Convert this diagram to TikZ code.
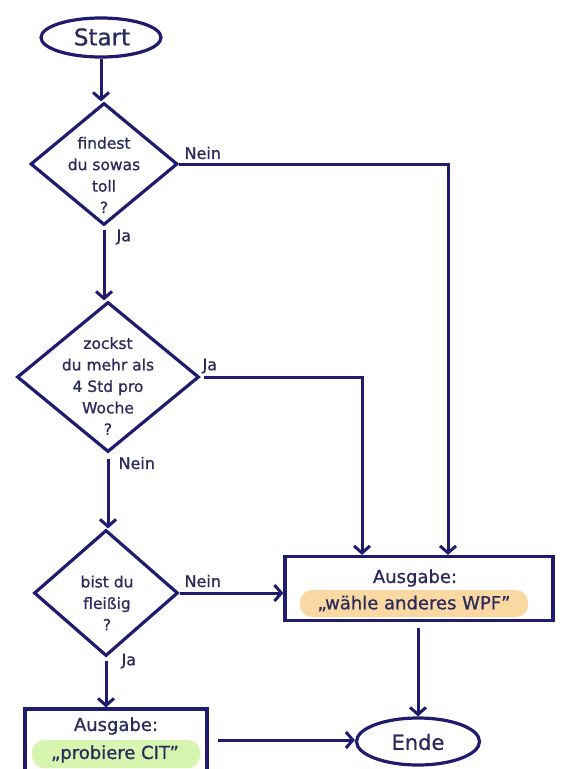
\documentclass[tikz,border=0pt]{standalone}
\usepackage{fontspec}
\setmainfont{DejaVu Sans}[BoldFont=DejaVu Sans, BoldFeatures={FakeBold=0.8}]
\usetikzlibrary{shapes.geometric,arrows.meta}
\definecolor{ink}{HTML}{1F1B6E}
\definecolor{txt}{HTML}{2B2A5C}
\definecolor{peach}{HTML}{FAD8A2}
\definecolor{lime}{HTML}{D6F5AE}
\begin{document}
\begin{tikzpicture}[x=1pt,y=-1pt,
  line width=3.2pt,
  every node/.style={text=txt, font=\bfseries},
  terminal/.style={draw=ink, ellipse, inner sep=0pt},
  decision/.style={draw=ink, diamond, inner sep=0pt, line join=miter},
  qtext/.style={align=center, font=\bfseries\fontsize{15.5}{21.5}\selectfont},
  outbox/.style={draw=ink, rectangle, inner sep=0pt},
  lbl/.style={font=\bfseries\fontsize{16}{18}\selectfont, inner sep=0pt},
  big/.style={font=\bfseries\fontsize{18}{20}\selectfont},
  flow/.style={draw=ink, line width=3pt, -{Straight Barb[length=7pt,width=16pt]}}
]
\useasboundingbox[fill=white] (0,0) rectangle (573,769);

% terminals
\node[terminal, minimum width=120pt, minimum height=39pt] (start) at (101,37.5) {};
\node[font=\bfseries\fontsize{23}{24}\selectfont] (starttxt) at (102,37) {Start};
\node[terminal, minimum width=123pt, minimum height=47pt] (ende) at (418,741.5) {};
\node[font=\bfseries\fontsize{21}{24}\selectfont] (endetxt) at (418,742) {Ende};

% decisions
\node[decision, minimum width=147pt, minimum height=122pt] (d1) at (104,164) {};
\node[qtext] (q1) at (104,175) {findest\\du sowas\\toll\\?};
\node[decision, minimum width=182pt, minimum height=150pt] (d2) at (108,377) {};
\node[qtext] (q2) at (108,386) {zockst\\du mehr als\\4 Std pro\\Woche\\?};
\node[decision, minimum width=144pt, minimum height=126pt] (d3) at (106,593) {};
\node[qtext] (q3) at (107,603) {bist du\\fleißig\\?};

% output boxes
\node[outbox, minimum width=268pt, minimum height=64pt] (wpf) at (419,588.5) {};
\node[big] (wpfhead) at (415,578) {Ausgabe:};
\fill[peach, rounded corners=12pt] (300,590) rectangle (528,617);
\node[big] (wpftxt) at (414,603.5) {„wähle anderes WPF\symbol{"22}};

\node[outbox, minimum width=182pt, minimum height=62pt] (cit) at (116,740) {};
\fill[lime, rounded corners=12pt] (32,740) rectangle (200,768);
\node[big] (cithead) at (116,726) {Ausgabe:};
\node[big] (cittxt) at (115,754) {„probiere CIT\symbol{"22}};

% branch labels
\node[lbl, anchor=west] (n1) at (183,153) {Nein};
\node[lbl, anchor=west] (j1) at (115,237) {Ja};
\node[lbl, anchor=west] (j2) at (201,366) {Ja};
\node[lbl, anchor=west] (n2) at (117,463) {Nein};
\node[lbl, anchor=west] (n3) at (183,581) {Nein};
\node[lbl, anchor=west] (j3) at (120,661) {Ja};

% connectors
\draw[flow] (start.south) -- (start.south |- d1.north);
\draw[flow, shorten <=3pt] (d1.south) -- (d1.south |- d2.north);
\draw[flow, shorten <=5pt] (d2.south) -- (d2.south |- d3.north);
\draw[flow, shorten <=3pt] (d3.south) -- (d3.south |- cit.north);
\draw[flow] (d1.east) -| ([xshift=29pt]wpf.north);
\draw[flow, shorten <=3pt] (d2.east) -| ([xshift=-57pt]wpf.north);
\draw[flow] (d3.east) -- (d3.east -| wpf.west);
\draw[flow, shorten <=6pt] (ende.north |- wpf.south) -- (ende.north);
\draw[flow, shorten <=9pt] (cit.east) -- (cit.east -| ende.west);
\end{tikzpicture}
\end{document}
